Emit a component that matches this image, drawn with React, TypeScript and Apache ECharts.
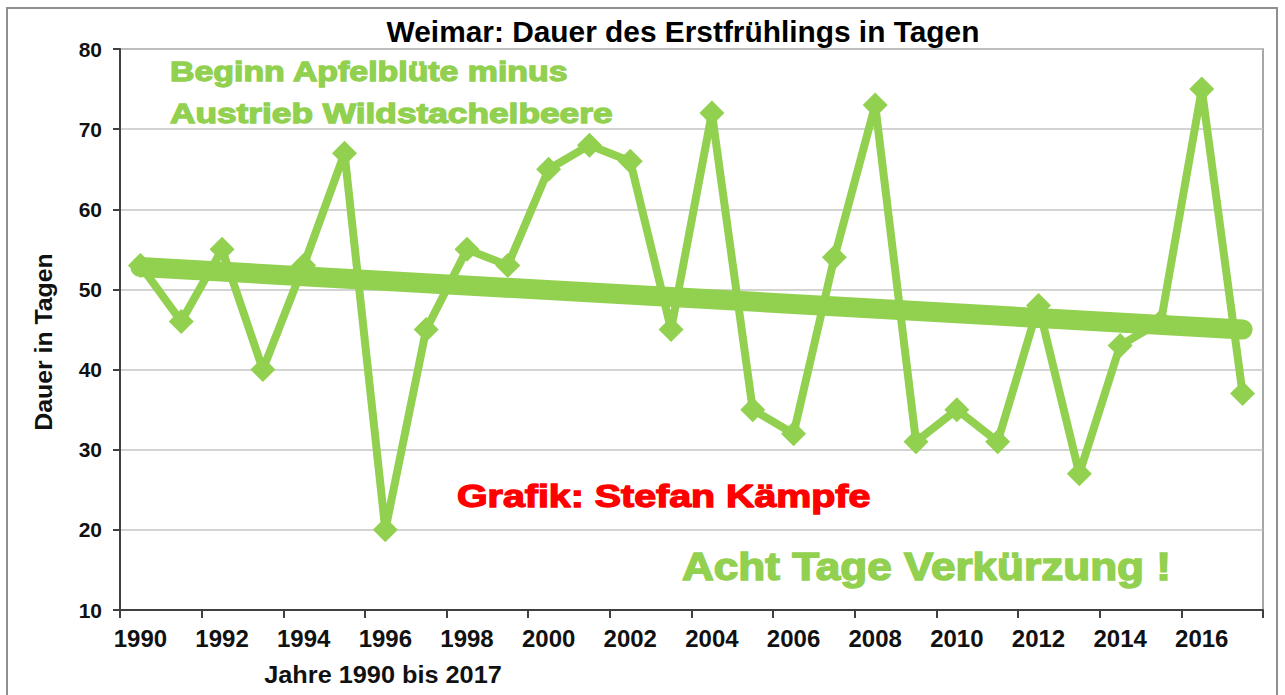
import React, { useEffect, useRef } from "react";
import * as echarts from "echarts";

const years: string[] = [
  "1990", "1991", "1992", "1993", "1994", "1995", "1996", "1997", "1998", "1999",
  "2000", "2001", "2002", "2003", "2004", "2005", "2006", "2007", "2008", "2009",
  "2010", "2011", "2012", "2013", "2014", "2015", "2016", "2017",
];
const dauer: number[] = [
  53, 46, 55, 40, 53, 67, 20, 45, 55, 53,
  65, 68, 66, 45, 72, 35, 32, 54, 73, 31,
  35, 31, 48, 27, 43, 46, 75, 37,
];
const trendStart = 52.8;
const trendEnd = 45.0;

const GREEN = "#92D050";
const FONT = "'Liberation Sans', Arial, sans-serif";

export default function App() {
  const ref = useRef<HTMLDivElement>(null);
  useEffect(() => {
    if (!ref.current) return;
    const chart = echarts.init(ref.current, null, { renderer: "svg" });
    const txt = (
      text: string, x: number, y: number, size: number, color: string,
      scaleX: number, align: string, rotation = 0, heavy = 0
    ) => ({
      type: "text",
      x, y, scaleX, rotation,
      z: 100,
      style: {
        text, fill: color, fontSize: size, fontWeight: "bold", fontFamily: FONT,
        align, verticalAlign: "middle",
        stroke: heavy > 0 ? color : undefined,
        lineWidth: heavy,
      },
    });
    chart.setOption({
      animation: false,
      backgroundColor: "#ffffff",
      grid: {
        left: 120, right: 22, top: 49, bottom: 85,
        containLabel: false, outerBoundsMode: "none",
        show: true, borderColor: "#8a8a8a", borderWidth: 1.5,
      },
      xAxis: {
        type: "category",
        data: years,
        boundaryGap: true,
        axisLine: { lineStyle: { color: "#404040", width: 2 } },
        axisTick: { show: true, interval: 1, length: 8, lineStyle: { color: "#404040", width: 2 } },
        axisLabel: {
          interval: 1, margin: 16, color: "#111", fontSize: 24, fontWeight: "bold", fontFamily: FONT,
        },
        splitLine: { show: false },
      },
      yAxis: {
        type: "value",
        min: 10, max: 80, interval: 10,
        axisLine: { show: true, lineStyle: { color: "#404040", width: 2 } },
        axisTick: { show: true, length: 7, lineStyle: { color: "#404040", width: 2 } },
        axisLabel: { margin: 18, color: "#111", fontSize: 21, fontWeight: "bold", fontFamily: FONT },
        splitLine: { show: true, lineStyle: { color: "#c4c4c4", width: 1.5 } },
      },
      series: [
        {
          type: "line",
          data: dauer,
          z: 2,
          symbol: "diamond",
          symbolSize: 25,
          lineStyle: { color: GREEN, width: 8 },
          itemStyle: { color: GREEN },
        },
        {
          type: "line",
          data: [[0, trendStart], [years.length - 1, trendEnd]],
          z: 3,
          symbol: "none",
          lineStyle: { color: GREEN, width: 20, cap: "round" },
        },
      ],
      graphic: [
        {
          type: "rect",
          shape: { x: 7, y: 8, width: 1270, height: 720 },
          style: { fill: "none", stroke: "#8f8f8f", lineWidth: 2 },
          z: 0,
        },
        txt("Weimar: Dauer des Erstfrühlings in Tagen", 683, 32, 29, "#000", 1.03, "center"),
        txt("Beginn Apfelblüte minus", 170, 72, 28, GREEN, 1.21, "left", 0, 1.3),
        txt("Austrieb Wildstachelbeere", 170, 113, 28, GREEN, 1.26, "left", 0, 1.3),
        txt("Grafik: Stefan Kämpfe", 457, 497, 31, "#ff0000", 1.27, "left", 0, 1.3),
        txt("Acht Tage Verkürzung !", 682, 567, 38, GREEN, 1.16, "left", 0, 1.5),
        txt("Dauer in Tagen", 44, 342, 23, "#111", 1.08, "center", Math.PI / 2),
        txt("Jahre 1990 bis 2017", 383, 675, 23, "#111", 1.1, "center"),
      ],
    });
    return () => chart.dispose();
  }, []);
  return (
    <div
      ref={ref}
      style={{ position: "absolute", left: 0, top: 0, width: 1285, height: 695, background: "#fff" }}
    />
  );
}
